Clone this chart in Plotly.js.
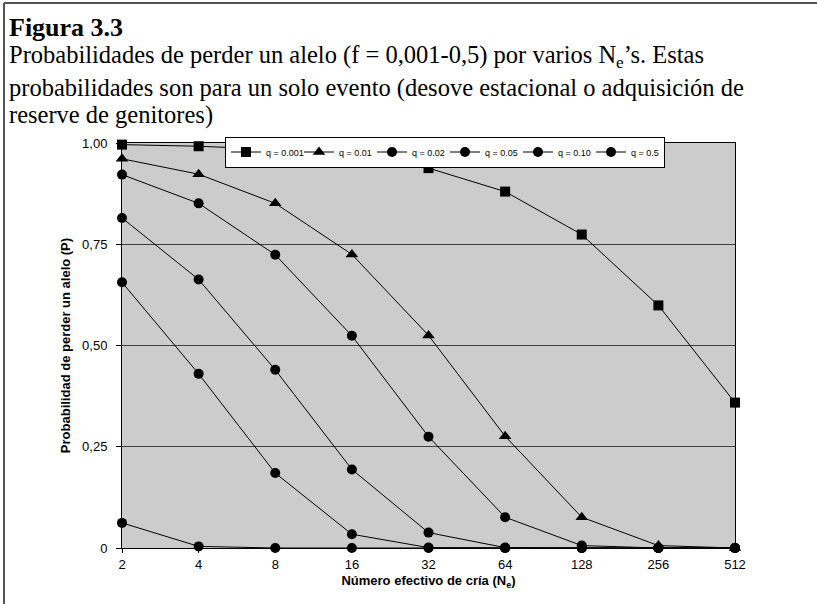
<!DOCTYPE html>
<html>
<head>
<meta charset="utf-8">
<script src="https://cdn.plot.ly/plotly-3.0.1.min.js"></script>
<style>
html,body{margin:0;padding:0;background:#fff;}
#chart{width:817px;height:604px;}
</style>
</head>
<body>
<div id="chart"></div>
<script>
// Ne categories (x axis)
const neLabels = ['2','4','8','16','32','64','128','256','512'];
// Series: probability of losing an allele
const q0001 = [0.996, 0.992, 0.984, 0.968, 0.938, 0.880, 0.774, 0.599, 0.359];
const q001  = [0.961, 0.923, 0.851, 0.725, 0.525, 0.276, 0.076, 0.006, 0.000];
const q002  = [0.922, 0.851, 0.724, 0.524, 0.275, 0.076, 0.006, 0.000, 0.000];
const q005  = [0.815, 0.663, 0.440, 0.194, 0.038, 0.001, 0.000, 0.000, 0.000];
const q010  = [0.656, 0.430, 0.185, 0.034, 0.001, 0.000, 0.000, 0.000, 0.000];
const q05   = [0.062, 0.004, 0.000, 0.000, 0.000, 0.000, 0.000, 0.000, 0.000];
const seriesNames = ['q = 0.001','q = 0.01','q = 0.02','q = 0.05','q = 0.10','q = 0.5'];
const seriesValues = [q0001, q001, q002, q005, q010, q05];
const seriesSymbols = ['square','triangle-up','circle','circle','circle','circle'];
const seriesSizes = [10, 11, 10, 10, 10, 10];
const yTickVals = [0, 0.25, 0.5, 0.75, 1];
const yTickText = ['0','0,25','0,50','0,75','1,00'];

// plot area in pixels
const L = 122, R = 735, T = 143, B = 548, W = 817, H = 604;
const px = x => (x - L) / (R - L);
const py = y => (B - y) / (B - T);

const traces = seriesNames.map((n, i) => ({
  type: 'scatter', mode: 'lines+markers', name: n,
  x: neLabels, y: seriesValues[i],
  line: {color: '#000', width: 1},
  marker: {symbol: seriesSymbols[i], size: seriesSizes[i], color: '#000', line: {width: 0}},
  cliponaxis: false
}));

const serif = 'Liberation Serif, Times New Roman, serif';
const sans = 'Liberation Sans, Arial, sans-serif';
const bodySize = 24.5;

const layout = {
  width: W, height: H,
  margin: {l: L, r: W - R, t: T, b: H - B, pad: 0},
  paper_bgcolor: '#fff',
  plot_bgcolor: '#cccccc',
  showlegend: true,
  legend: {
    orientation: 'h', x: px(225), y: py(152), xanchor: 'left', yanchor: 'middle',
    bgcolor: '#fff', bordercolor: '#000', borderwidth: 1,
    font: {family: sans, size: 9, color: '#000'},
    entrywidth: 28, entrywidthmode: 'pixels', itemwidth: 30, tracegroupgap: 0
  },
  xaxis: {
    type: 'category', range: [0, 8], autorange: false,
    showline: true, linecolor: '#000', linewidth: 1, mirror: true,
    showgrid: false, zeroline: false,
    ticks: 'outside', ticklen: 4, tickcolor: '#000',
    tickfont: {family: sans, size: 13, color: '#000'},
    title: {text: 'Número efectivo de cría (N<sub>e</sub>)', font: {family: sans, size: 13, color: '#000', weight: 'bold'}, standoff: 5}
  },
  yaxis: {
    range: [0, 1], autorange: false,
    tickvals: yTickVals, ticktext: yTickText,
    showline: true, linecolor: '#000', linewidth: 1, mirror: true,
    showgrid: true, gridcolor: '#404040', gridwidth: 1, zeroline: false,
    ticks: 'outside', ticklen: 5, tickcolor: '#000', ticklabelstandoff: 6,
    tickfont: {family: sans, size: 13, color: '#000'},
    title: {text: 'Probabilidad de perder un alelo (P)', font: {family: sans, size: 13, color: '#000', weight: 'bold'}, standoff: 8}
  },
  annotations: [
    {xref: 'paper', yref: 'paper', x: px(7), y: py(27), xanchor: 'left', yanchor: 'middle', showarrow: false,
     text: '<b>Figura 3.3</b>', font: {family: serif, size: 26, color: '#000'}},
    {xref: 'paper', yref: 'paper', x: px(7), y: py(56), xanchor: 'left', yanchor: 'middle', showarrow: false,
     text: 'Probabilidades de perder un alelo (f = 0,001-0,5) por varios N<sub>e</sub>’s. Estas', font: {family: serif, size: bodySize, color: '#000'}},
    {xref: 'paper', yref: 'paper', x: px(7), y: py(88), xanchor: 'left', yanchor: 'middle', showarrow: false,
     text: 'probabilidades son para un solo evento (desove estacional o adquisición de', font: {family: serif, size: bodySize, color: '#000'}},
    {xref: 'paper', yref: 'paper', x: px(7), y: py(115.5), xanchor: 'left', yanchor: 'middle', showarrow: false,
     text: 'reserve de genitores)', font: {family: serif, size: bodySize, color: '#000'}}
  ],
  shapes: [
    {type: 'line', xref: 'paper', yref: 'paper', x0: px(4), x1: px(817), y0: py(3), y1: py(3), line: {color: '#555', width: 2}},
    {type: 'line', xref: 'paper', yref: 'paper', x0: px(4), x1: px(4), y0: py(3), y1: py(604), line: {color: '#555', width: 2}}
  ]
};

Plotly.newPlot('chart', traces, layout, {displayModeBar: false, staticPlot: true});
</script>
</body>
</html>
